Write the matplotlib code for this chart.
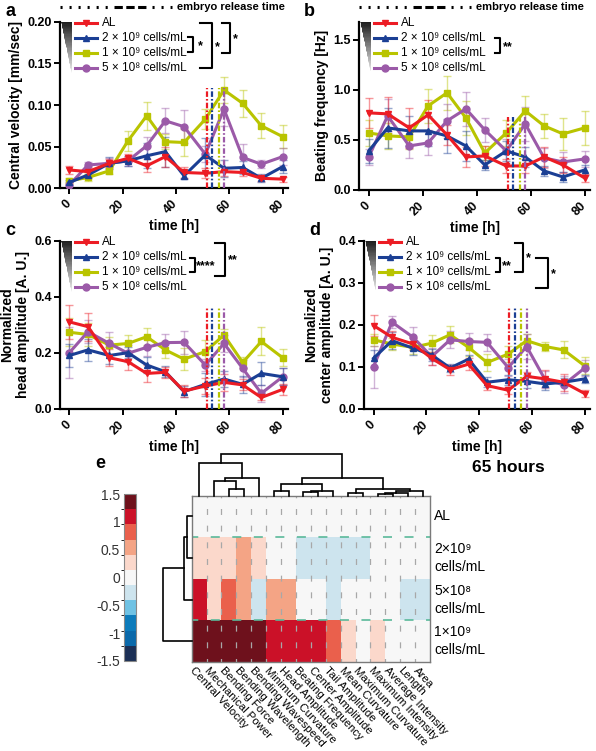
import numpy as np
import matplotlib
matplotlib.use('Agg')
import matplotlib.pyplot as plt
from matplotlib.colors import ListedColormap, BoundaryNorm
from matplotlib.patches import Polygon
from matplotlib.lines import Line2D
import matplotlib.colorbar as mcolorbar

plt.rcParams['font.family'] = ['Liberation Sans', 'DejaVu Sans']
plt.rcParams['lines.scale_dashes'] = False

W, H = 596, 751

# ---------------- data: panels a-d ----------------
time_h = [0, 7, 15, 22, 29, 36, 43, 51, 58, 65, 72, 80]
release_h = [51.5, 53.5, 56, 58]

groups = ['AL', '2 × 10⁹ cells/mL', '1 × 10⁹ cells/mL', '5 × 10⁸ cells/mL']
colors = ['#ec1c24', '#1b3f94', '#b9c400', '#9b5aa8']
markers = ['v', '^', 's', 'o']

# order: AL, 2e9, 1e9, 5e8
vel_mean = [[0.022, 0.020, 0.030, 0.036, 0.027, 0.038, 0.019, 0.018, 0.020, 0.019, 0.012, 0.011],
            [0.007, 0.016, 0.030, 0.033, 0.039, 0.044, 0.015, 0.040, 0.024, 0.025, 0.012, 0.026],
            [0.009, 0.013, 0.021, 0.057, 0.087, 0.056, 0.055, 0.083, 0.118, 0.102, 0.075, 0.062],
            [0.004, 0.028, 0.030, 0.033, 0.051, 0.081, 0.074, 0.041, 0.095, 0.037, 0.029, 0.038]]
vel_sem = [[0.005, 0.006, 0.005, 0.005, 0.008, 0.012, 0.007, 0.006, 0.005, 0.004, 0.003, 0.003],
           [0.003, 0.004, 0.007, 0.006, 0.015, 0.018, 0.004, 0.020, 0.010, 0.008, 0.005, 0.008],
           [0.003, 0.004, 0.004, 0.012, 0.017, 0.009, 0.016, 0.012, 0.016, 0.016, 0.015, 0.014],
           [0.003, 0.004, 0.006, 0.006, 0.011, 0.015, 0.020, 0.010, 0.020, 0.016, 0.005, 0.010]]

freq_mean = [[0.77, 0.76, 0.62, 0.75, 0.55, 0.33, 0.34, 0.24, 0.24, 0.33, 0.25, 0.12],
             [0.39, 0.62, 0.59, 0.59, 0.54, 0.44, 0.25, 0.39, 0.33, 0.19, 0.13, 0.20],
             [0.57, 0.54, 0.53, 0.84, 0.97, 0.72, 0.37, 0.57, 0.79, 0.64, 0.56, 0.62],
             [0.33, 0.74, 0.44, 0.47, 0.69, 0.81, 0.60, 0.39, 0.66, 0.32, 0.28, 0.31]]
freq_sem = [[0.15, 0.17, 0.20, 0.15, 0.10, 0.10, 0.10, 0.07, 0.07, 0.10, 0.08, 0.04],
            [0.12, 0.20, 0.15, 0.15, 0.17, 0.15, 0.05, 0.10, 0.10, 0.05, 0.05, 0.05],
            [0.13, 0.13, 0.12, 0.17, 0.17, 0.17, 0.07, 0.13, 0.15, 0.12, 0.16, 0.17],
            [0.08, 0.17, 0.12, 0.12, 0.17, 0.17, 0.12, 0.12, 0.17, 0.10, 0.10, 0.08]]

head_mean = [[0.310, 0.293, 0.182, 0.168, 0.126, 0.130, 0.063, 0.081, 0.094, 0.085, 0.040, 0.069],
             [0.190, 0.210, 0.190, 0.200, 0.156, 0.132, 0.061, 0.087, 0.106, 0.087, 0.126, 0.114],
             [0.273, 0.265, 0.227, 0.233, 0.257, 0.210, 0.177, 0.204, 0.263, 0.165, 0.240, 0.182],
             [0.200, 0.275, 0.233, 0.198, 0.219, 0.236, 0.237, 0.156, 0.233, 0.144, 0.055, 0.114]]
head_sem = [[0.06, 0.05, 0.03, 0.03, 0.03, 0.02, 0.02, 0.03, 0.03, 0.02, 0.01, 0.02],
            [0.04, 0.04, 0.03, 0.02, 0.03, 0.02, 0.02, 0.04, 0.03, 0.03, 0.04, 0.03],
            [0.05, 0.04, 0.03, 0.03, 0.03, 0.03, 0.04, 0.04, 0.02, 0.02, 0.05, 0.03],
            [0.09, 0.04, 0.04, 0.03, 0.03, 0.03, 0.04, 0.02, 0.03, 0.03, 0.03, 0.03]]

center_mean = [[0.198, 0.170, 0.154, 0.120, 0.093, 0.106, 0.055, 0.044, 0.077, 0.071, 0.063, 0.036],
               [0.120, 0.162, 0.144, 0.128, 0.097, 0.118, 0.063, 0.069, 0.065, 0.059, 0.063, 0.071],
               [0.164, 0.154, 0.146, 0.156, 0.176, 0.146, 0.110, 0.130, 0.162, 0.148, 0.140, 0.102],
               [0.100, 0.206, 0.170, 0.124, 0.164, 0.160, 0.158, 0.098, 0.148, 0.069, 0.057, 0.097]]
center_sem = [[0.025, 0.015, 0.015, 0.015, 0.012, 0.015, 0.010, 0.008, 0.010, 0.020, 0.020, 0.008],
              [0.020, 0.020, 0.015, 0.015, 0.010, 0.010, 0.012, 0.012, 0.015, 0.015, 0.010, 0.010],
              [0.015, 0.015, 0.015, 0.020, 0.020, 0.020, 0.020, 0.020, 0.015, 0.010, 0.020, 0.020],
              [0.050, 0.015, 0.025, 0.020, 0.020, 0.020, 0.020, 0.020, 0.030, 0.020, 0.020, 0.020]]

# ---------------- data: panel e ----------------
features = ['Central Velocity', 'Mechanical Power', 'Bending Force', 'Bending Wavelength',
            'Bending Wavespeed', 'Minimum Curvature', 'Head Amplitude', 'Beating Frequency',
            'Center Amplitude', 'Tail Amplitude', 'Mean Curvature', 'Maximum Curvature',
            'Maximum Intensity', 'Average Intensity', 'Length', 'Area']
row_labels = ['AL', '2×10⁹\ncells/mL', '5×10⁸\ncells/mL', '1×10⁹\ncells/mL']
z_al = [0] * 16
z_2e9 = [0.27, 0.27, 0.27, 0.55, 0.27, 0, 0, -0.27, -0.27, -0.27, -0.27, -0.27, 0, 0, 0, 0]
z_5e8 = [1.1, 0.27, 0.8, 0.55, -0.27, 0.55, 0.55, 0, 0, -0.27, 0, 0, 0, 0, -0.27, -0.27]
z_1e9 = [1.4, 1.4, 1.4, 1.4, 1.4, 1.1, 1.1, 1.1, 1.1, 0.8, 0.27, 0, 0.27, 0, 0, 0]

# dendrogram merges (left, right, height)
col_merges = [(2, 3, 6.7), (1, 16, 14.7), (17, 4, 18), (0, 18, 32.3), (5, 6, 4.7),
              (7, 8, 3.3), (21, 9, 4.7), (20, 22, 11.7), (10, 11, 2.3), (12, 13, 1.7),
              (25, 14, 2.7), (26, 15, 5), (24, 27, 6.7), (23, 28, 17.3), (19, 29, 41.7)]
row_merges = [(0, 1, 5), (4, 2, 7.4), (5, 3, 28.4)]

cb_colors = ['#1b2f55', '#0a69aa', '#0c7bbb', '#6fc2e4', '#cde4ee', '#f7f7f7',
             '#fbd8cb', '#f4a485', '#ea604c', '#cb1128', '#6e111c']

fig = plt.figure(figsize=(W / 100, H / 100), dpi=100)


def add_ax(l, t, r, b):
    return fig.add_axes([l / W, 1 - b / H, (r - l) / W, (b - t) / H])


def fpt(x, y):
    return x / W, 1 - y / H


def panel(box, means, sems, ylim, yticks, fmt, ylabel, vtop, letter, brackets, show_release):
    l, t, r, b = box
    ax = add_ax(l, t, r, b)
    for k in [2, 3, 1, 0]:
        ax.errorbar(time_h, means[k], yerr=sems[k], fmt='none', ecolor=colors[k],
                    alpha=0.45, elinewidth=1, capsize=2.8, capthick=1, zorder=2)
        ax.plot(time_h, means[k], color=colors[k], lw=2.2, marker=markers[k], ms=5, zorder=3)
    for rh, c in zip(release_h, colors):
        ax.plot([rh, rh], [0, vtop], color=c, lw=1.6, dashes=(4, 1.5, 1.2, 1.5), zorder=4)
    ax.set_xlim(-3.5, 82)
    ax.set_ylim(*ylim)
    ax.set_yticks(yticks)
    ax.set_yticklabels([fmt % v for v in yticks], fontweight='bold', fontsize=9)
    ax.set_xticks([0, 20, 40, 60, 80])
    ax.set_xticklabels(['0', '20', '40', '60', '80'], rotation=45, ha='right', va='center',
                       rotation_mode='anchor', fontweight='bold', fontsize=9)
    ax.set_xlabel('time [h]', fontweight='bold', fontsize=10, labelpad=2)
    ax.set_ylabel(ylabel, fontweight='bold', fontsize=10, labelpad=3)
    for s in ['top', 'right']:
        ax.spines[s].set_visible(False)
    for s in ['left', 'bottom']:
        ax.spines[s].set_linewidth(1.6)
    ax.tick_params(direction='out', length=4, width=1.4, pad=2)
    ax.tick_params(axis='x', pad=6)

    # gradient triangle
    n = 40
    for i in range(n):
        y0 = 51 * i / n
        y1 = 51 * (i + 1) / n
        xl0 = 1 + 10.5 * i / n
        xl1 = 1 + 10.5 * (i + 1) / n
        g = 0.12 + 0.83 * i / n
        poly = Polygon([fpt(l + xl0, t + y0), fpt(l + 12, t + y0), fpt(l + 12, t + y1),
                        fpt(l + xl1, t + y1)], closed=True, transform=fig.transFigure,
                       facecolor=(g, g, g), edgecolor='none')
        fig.add_artist(poly)

    # legend
    rows = [1.5, 16.5, 31.5, 46.5]
    for k in range(4):
        y = t + rows[k]
        fig.add_artist(Line2D([(l + 15) / W, (l + 37) / W], [1 - y / H] * 2,
                              transform=fig.transFigure, color=colors[k], lw=2.2))
        fig.add_artist(Line2D([(l + 26) / W], [1 - y / H], transform=fig.transFigure,
                              color=colors[k], marker=markers[k], ms=5))
        fig.text((l + 42) / W, 1 - y / H, groups[k], va='center', ha='left', fontsize=8.5)

    for (x0, x1, y0, y1, txt, tx) in brackets:
        xs = [l + x0, l + x1, l + x1, l + x0]
        ys = [t + y0, t + y0, t + y1, t + y1]
        fig.add_artist(Line2D([x / W for x in xs], [1 - y / H for y in ys],
                              transform=fig.transFigure, color='black', lw=1.5))
        fig.text((l + tx) / W, 1 - (t + (y0 + y1) / 2 + 1) / H, txt, va='center',
                 ha='left', fontsize=9, fontweight='bold')

    fig.text(fpt(l - 55, t - 10)[0], fpt(l - 55, t - 10)[1], letter, fontsize=13,
             fontweight='bold', va='center', ha='left')

    if show_release:
        yy = t - 15
        segs = [(l, l + 50, (1.5, 5)), (l + 54, l + 88, (6, 2.5)), (l + 92, l + 112, (1.5, 5))]
        for (xa, xb, d) in segs:
            fig.add_artist(Line2D([xa / W, xb / W], [1 - yy / H] * 2, transform=fig.transFigure,
                                  color='black', lw=2.2, dashes=d))
        fig.text((l + 117) / W, 1 - yy / H, 'embryo release time', fontsize=8,
                 fontweight='bold', va='center', ha='left')
    return ax


panel((60, 21.7, 288, 188.3), vel_mean, vel_sem, (0, 0.2), [0, 0.05, 0.10, 0.15, 0.20], '%.2f',
      'Central velocity [mm/sec]', 0.12, 'a',
      [(128, 133, 15.6, 30.6, '*', 138), (140, 152, 1.6, 46.6, '*', 155),
       (162, 170, 1, 31.6, '*', 173)], True)
panel((359.3, 21.7, 590, 190), freq_mean, freq_sem, (0, 1.68), [0, 0.5, 1.0, 1.5], '%.1f',
      'Beating frequency [Hz]', 0.73, 'b',
      [(135.7, 140.7, 16.6, 31.6, '**', 144)], True)
panel((60, 240.7, 288, 408.7), head_mean, head_sem, (0, 0.6), [0, 0.2, 0.4, 0.6], '%.1f',
      'Normalized\nhead amplitude [A. U.]', 0.36, 'c',
      [(130, 135, 17.6, 31, '****', 135.5), (155, 165, 2, 35.3, '**', 168)], False)
panel((364.3, 240.7, 590, 408.7), center_mean, center_sem, (0, 0.4), [0, 0.1, 0.2, 0.3, 0.4], '%.1f',
      'Normalized\ncenter amplitude [A. U.]', 0.24, 'd',
      [(132, 136, 17.6, 31, '**', 137.5), (151, 159, 2, 31, '*', 162),
       (172, 184, 17.6, 47.6, '*', 187)], False)

# ---------------- panel e ----------------
cmap = ListedColormap(cb_colors)
bounds = np.linspace(-1.5, 1.5, 12)
norm = BoundaryNorm(bounds, cmap.N)

hx0, hy0, hx1, hy1 = 191.7, 495.7, 430, 662
axh = add_ax(hx0, hy0, hx1, hy1)
Z = np.array([z_al, z_2e9, z_5e8, z_1e9])
axh.pcolormesh(np.arange(17), np.arange(5), Z, cmap=cmap, norm=norm)
axh.set_xlim(0, 16)
axh.set_ylim(4, 0)
axh.vlines(np.arange(1, 16), 0, 4, color='#a8a8a8', lw=0.9, linestyles=[(3, (4.3, 7.7))])
axh.hlines([1, 3], 0, 16, color='#5ab99a', lw=1.2, linestyles=[(2, (6.5, 9))])
axh.set_xticks([])
axh.set_yticks([])
for s in axh.spines.values():
    s.set_color('#7a7a7a')
    s.set_linewidth(1.0)
for i, f in enumerate(features):
    axh.text(i + 0.25, 4.08, f, rotation=-47, ha='left', va='top', rotation_mode='anchor',
             fontsize=8.2)
for j, lab in enumerate(row_labels):
    axh.text(16.3, j + 0.5, lab, ha='left', va='center', fontsize=10, linespacing=1.35)

# column dendrogram
axc = add_ax(hx0, 452, hx1, hy0)
axc.set_xlim(0, 16)
axc.set_ylim(0, hy0 - 452)
axc.axis('off')
pos = {i: i + 0.5 for i in range(16)}
hgt = {i: 0 for i in range(16)}
for k, (a, b, hh) in enumerate(col_merges):
    axc.plot([pos[a], pos[a], pos[b], pos[b]], [hgt[a], hh, hh, hgt[b]], color='black',
             lw=1.2, solid_joinstyle='miter', clip_on=False)
    pos[16 + k] = (pos[a] + pos[b]) / 2
    hgt[16 + k] = hh

# row dendrogram
axr = add_ax(158, hy0, hx0, hy1)
axr.set_xlim(hx0 - 158, 0)
axr.set_ylim(4, 0)
axr.axis('off')
pos = {i: i + 0.5 for i in range(4)}
hgt = {i: 0 for i in range(4)}
for k, (a, b, hh) in enumerate(row_merges):
    axr.plot([hgt[a], hh, hh, hgt[b]], [pos[a], pos[a], pos[b], pos[b]], color='black',
             lw=1.2, clip_on=False)
    pos[4 + k] = (pos[a] + pos[b]) / 2
    hgt[4 + k] = hh

# colorbar
cax = add_ax(124.3, 494, 136, 661)
cb = mcolorbar.ColorbarBase(cax, cmap=cmap, norm=norm, orientation='vertical',
                            boundaries=bounds, spacing='proportional')
cb.set_ticks([-1.5, -1, -0.5, 0, 0.5, 1, 1.5])
cb.set_ticklabels(['-1.5', '-1', '-0.5', '0', '0.5', '1', '1.5'])
cax.yaxis.set_ticks_position('left')
cax.tick_params(length=0, labelsize=10, labelcolor='#333333', pad=3)
cb.outline.set_edgecolor('#888888')
cb.outline.set_linewidth(0.8)

fig.text(95 / W, 1 - 463 / H, 'e', fontsize=13, fontweight='bold', va='center', ha='left')
fig.text(508 / W, 1 - 467 / H, '65 hours', fontsize=12.5, fontweight='bold', va='center',
         ha='center')

fig.savefig('out.png', dpi=100)
